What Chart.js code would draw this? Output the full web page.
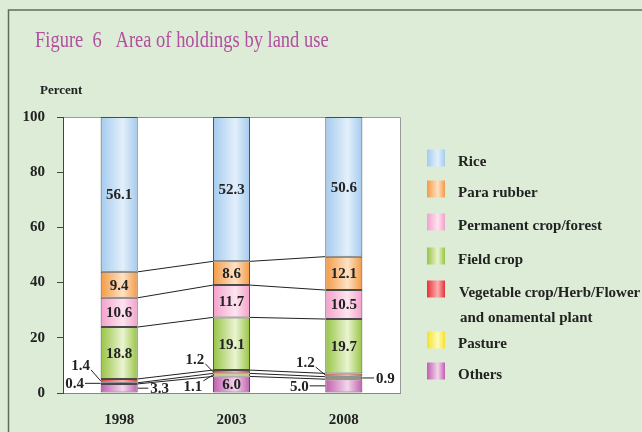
<!DOCTYPE html>
<html>
<head>
<meta charset="utf-8">
<script src="https://cdn.jsdelivr.net/npm/chart.js@4"></script>
<style>
  html, body { margin: 0; padding: 0; background: #dcecd6; }
  canvas { display: block; }
</style>
</head>
<body>
<canvas id="landuse-chart" width="642" height="432"></canvas>
<script>
const SERIF = '"Liberation Serif", "Times New Roman", serif'
const TEXT = '#222'

// data (percent of holding area)
const years = ['1998', '2003', '2008']
const seriesNames = ['Others', 'Pasture', 'Vegetable crop/Herb/Flower and onamental plant',
    'Field crop', 'Permanent crop/forest', 'Para rubber', 'Rice']
const others = [3.3, 6.0, 5.0]
const pasture = [0.4, 1.1, 0.9]
const vegetable = [1.4, 1.2, 1.2]
const fieldCrop = [18.8, 19.1, 19.7]
const permanentCrop = [10.6, 11.7, 10.5]
const paraRubber = [9.4, 8.6, 12.1]
const rice = [56.1, 52.3, 50.6]
const yTicks = [0, 20, 40, 60, 80, 100]

// [edge colour, middle colour] for the cylinder-ish shading
const shades = [
    ['#bf5fae', '#f3d6ec'],
    ['#f4e22c', '#fffbb8'],
    ['#e5323a', '#fbb0b0'],
    ['#97c443', '#eaf4d2'],
    ['#f3a0cb', '#fde4f0'],
    ['#f39a45', '#fee2c4'],
    ['#a4cbee', '#e3effb'],
]

// labels that sit outside the bar: dataset, year, side, offset of text
const outsideLabels = [
    { ds: 2, idx: 0, side: 'left', dx: -20, dy: -16 },
    { ds: 1, idx: 0, side: 'left', dx: -26, dy: 0 },
    { ds: 0, idx: 0, side: 'right', dx: 22, dy: 0 },
    { ds: 2, idx: 1, side: 'left', dx: -18, dy: -13 },
    { ds: 1, idx: 1, side: 'left', dx: -20, dy: 11 },
    { ds: 2, idx: 2, side: 'left', dx: -20, dy: -13 },
    { ds: 1, idx: 2, side: 'right', dx: 23, dy: 0 },
    { ds: 0, idx: 2, side: 'left', dx: -26, dy: 0 },
]

function barGradient(ctx, x, half, i) {
    const g = ctx.createLinearGradient(x - half, 0, x + half, 0)
    g.addColorStop(0, shades[i][0])
    g.addColorStop(0.6, shades[i][1])
    g.addColorStop(1, shades[i][0])
    return g
}

const seriesValues = [others, pasture, vegetable, fieldCrop, permanentCrop, paraRubber, rice]

const datasets = seriesValues.map((values, i) => ({
    label: seriesNames[i],
    data: values,
    backgroundColor: function (context) {
        const chart = context.chart
        if (!chart.chartArea || context.dataIndex === undefined) return shades[i][0]
        const x = chart.scales.x.getPixelForValue(context.dataIndex)
        return barGradient(chart.ctx, x, 18.5, i)
    },
    borderColor: '#4a4a4a',
    borderWidth: 1,
    borderSkipped: false,
    barPercentage: 0.33,
    categoryPercentage: 1,
}))

const decorations = {
    id: 'decorations',
    beforeDraw(chart) {
        const ctx = chart.ctx
        const a = chart.chartArea
        ctx.save()
        ctx.fillStyle = '#dcecd6'
        ctx.fillRect(0, 0, chart.width, chart.height)
        ctx.strokeStyle = '#5f6d5c'
        ctx.lineWidth = 1.5
        ctx.beginPath()
        ctx.moveTo(8.5, chart.height + 2)
        ctx.lineTo(8.5, 10)
        ctx.lineTo(chart.width + 2, 10)
        ctx.stroke()
        ctx.fillStyle = '#fff'
        ctx.fillRect(a.left, a.top, a.right - a.left, a.bottom - a.top)
        ctx.strokeStyle = '#9a9a9a'
        ctx.lineWidth = 1
        ctx.beginPath()
        ctx.moveTo(a.left, a.top + 0.5)
        ctx.lineTo(a.right + 0.5, a.top + 0.5)
        ctx.lineTo(a.right + 0.5, a.bottom)
        ctx.stroke()
        ctx.restore()
    },
    beforeDatasetsDraw(chart) {
        // lines joining the segment boundaries of neighbouring bars
        const ctx = chart.ctx
        ctx.save()
        ctx.strokeStyle = '#222'
        ctx.lineWidth = 1
        for (let d = 0; d < datasets.length - 1; d++) {
            const bars = chart.getDatasetMeta(d).data
            for (let j = 0; j < bars.length - 1; j++) {
                const p = bars[j], q = bars[j + 1]
                ctx.beginPath()
                ctx.moveTo(p.x + p.width / 2, p.y)
                ctx.lineTo(q.x - q.width / 2, q.y)
                ctx.stroke()
            }
        }
        ctx.restore()
    },
    afterDatasetsDraw(chart) {
        const ctx = chart.ctx
        ctx.save()
        ctx.font = 'bold 15px ' + SERIF
        ctx.fillStyle = TEXT
        ctx.strokeStyle = '#222'
        ctx.lineWidth = 1
        ctx.textAlign = 'center'
        ctx.textBaseline = 'middle'
        datasets.forEach((ds, d) => {
            chart.getDatasetMeta(d).data.forEach((bar, j) => {
                const text = ds.data[j].toFixed(1)
                const midY = (bar.y + bar.base) / 2
                const out = outsideLabels.find(o => o.ds === d && o.idx === j)
                if (!out) {
                    ctx.fillText(text, bar.x, midY + 1)
                    return
                }
                const ax = out.side === 'left' ? bar.x - bar.width / 2 : bar.x + bar.width / 2
                const tx = ax + out.dx
                const ty = midY + out.dy
                const w = ctx.measureText(text).width
                const ex = out.side === 'left' ? tx + w / 2 + 1 : tx - w / 2 - 2
                const ey = ty + (out.dy < 0 ? 5 : out.dy > 0 ? -5 : 0)
                ctx.beginPath()
                ctx.moveTo(ex, ey)
                ctx.lineTo(ax, midY)
                ctx.stroke()
                ctx.fillText(text, tx, ty + 1)
            })
        })
        ctx.restore()
    },
    afterDraw(chart) {
        const ctx = chart.ctx
        ctx.save()
        // title set in a narrow Times, so squeeze it a little
        ctx.save()
        ctx.translate(35, 47)
        ctx.scale(0.77, 1)
        ctx.fillStyle = '#b24f9f'
        ctx.font = '24px ' + SERIF
        ctx.textBaseline = 'alphabetic'
        ctx.fillText('Figure  6   Area of holdings by land use', 0, 0)
        ctx.restore()
        ctx.fillStyle = TEXT
        ctx.font = 'bold 13px ' + SERIF
        ctx.fillText('Percent', 40, 94)

        // legend, top item first
        const rows = [
            { i: 6, y: 158 }, { i: 5, y: 189 }, { i: 4, y: 222 }, { i: 3, y: 256 },
            { i: 2, y: 289 }, { i: 1, y: 340 }, { i: 0, y: 371 },
        ]
        ctx.font = 'bold 15px ' + SERIF
        ctx.textBaseline = 'middle'
        rows.forEach(r => {
            ctx.fillStyle = barGradient(ctx, 436, 9, r.i)
            ctx.fillRect(427, r.y - 8.5, 18, 17)
            ctx.fillStyle = TEXT
            if (r.i === 2) {
                ctx.fillText('Vegetable crop/Herb/Flower', 459, r.y + 4)
                ctx.fillText('and onamental plant', 460, r.y + 29)
            } else {
                ctx.fillText(seriesNames[r.i], 458, r.y + 4)
            }
        })
        ctx.restore()
    },
}

new Chart(document.getElementById('landuse-chart').getContext('2d'), {
    type: 'bar',
    data: { labels: years, datasets: datasets },
    options: {
        responsive: false,
        animation: false,
        devicePixelRatio: 1,
        layout: { padding: { top: 117, right: 242, left: 0, bottom: 0 } },
        scales: {
            x: {
                stacked: true,
                grid: { display: false },
                border: { color: '#888' },
                ticks: { color: TEXT, font: { family: SERIF, size: 15, weight: 'bold' }, padding: 10 },
                afterFit: s => { s.height = 39 },
            },
            y: {
                stacked: true,
                min: 0,
                max: 100,
                afterBuildTicks: s => { s.ticks = yTicks.map(v => ({ value: v })) },
                grid: { drawOnChartArea: false, tickLength: 6, color: '#444' },
                border: { color: '#444' },
                ticks: { color: TEXT, font: { family: SERIF, size: 15, weight: 'bold' }, padding: 12 },
                afterFit: s => { s.width = 63 },
            },
        },
        plugins: {
            legend: { display: false },
            tooltip: { enabled: false },
        },
    },
    plugins: [decorations],
})
</script>
</body>
</html>
